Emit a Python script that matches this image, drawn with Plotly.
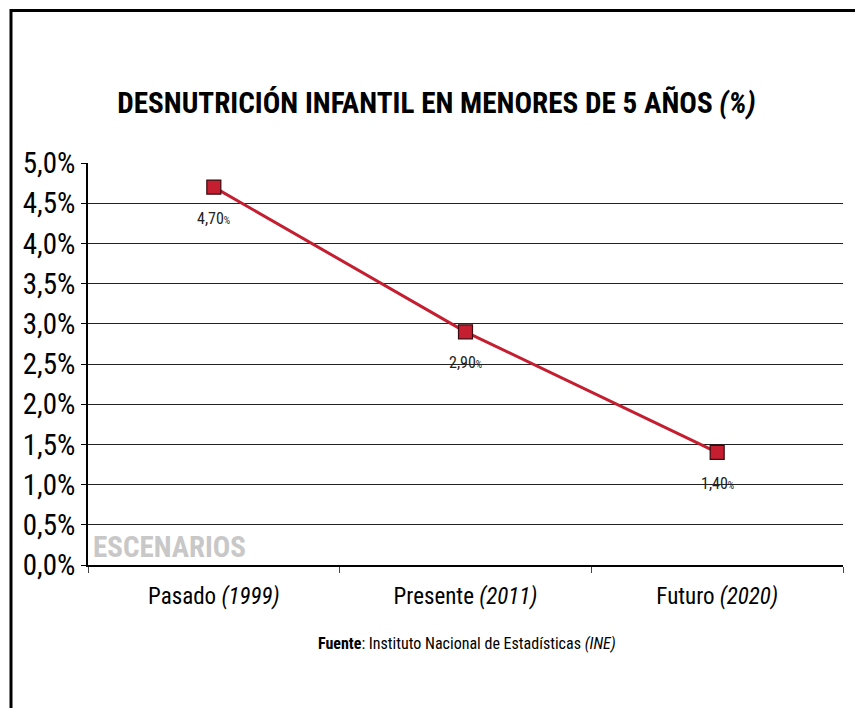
import plotly.graph_objects as go

categories = ["Pasado <i>(1999)</i>", "Presente <i>(2011)</i>", "Futuro <i>(2020)</i>"]
values = [4.7, 2.9, 1.4]
point_labels = ["4,70", "2,90", "1,40"]
y_tickvals = [0, 0.5, 1.0, 1.5, 2.0, 2.5, 3.0, 3.5, 4.0, 4.5, 5.0]
y_ticktext = ["0,0%", "0,5%", "1,0%", "1,5%", "2,0%", "2,5%", "3,0%", "3,5%", "4,0%", "4,5%", "5,0%"]

FONT = "Roboto Condensed, Liberation Sans Narrow, DejaVu Sans Condensed, Roboto, sans-serif"

W, H = 855, 708
L, R, T, B = 88, 12, 163, 143
pw, ph = W - L - R, H - T - B

def px(x):
    return (x - L) / pw

def py(y):
    return (H - B - y) / ph

def f(size, color="black"):
    return dict(family=FONT, size=size, color=color)

fig = go.Figure()
fig.add_trace(go.Scatter(
    x=categories, y=values,
    mode="lines+markers",
    line=dict(color="#c41e30", width=3),
    marker=dict(symbol="square", size=14, color="#c41e30", line=dict(color="#3a0a0e", width=1.2)),
    cliponaxis=False,
    hoverinfo="skip",
))

annotations = [
    dict(x=c, y=v, xref="x", yref="y", yshift=-31, showarrow=False,
         text=t + "<span style='font-size:10px'>%</span>", font=f(16, "#222"),
         xanchor="center", yanchor="middle")
    for c, v, t in zip(categories, values, point_labels)
]
annotations += [
    dict(text="<b>ESCENARIOS</b>", x=px(91), y=py(566), xref="paper", yref="paper",
         xanchor="left", yanchor="bottom", showarrow=False,
         font=f(29, "#c8c8c8")),
    dict(text="<b>Fuente</b>: Instituto Nacional de Estadísticas <i>(INE)</i>",
         x=px(467), y=py(643), xref="paper", yref="paper",
         xanchor="center", yanchor="middle", showarrow=False,
         font=f(16)),
]

fig.update_layout(
    width=W, height=H,
    margin=dict(l=L, r=R, t=T, b=B),
    paper_bgcolor="white", plot_bgcolor="white",
    showlegend=False,
    font=f(14),
    title=dict(
        text="<b>DESNUTRICIÓN INFANTIL EN MENORES DE 5 AÑOS <i>(%)</i></b>",
        x=436.5 / W, xanchor="center", xref="container",
        y=(H - 103) / H, yanchor="middle", yref="container",
        font=f(29.2),
    ),
    xaxis=dict(
        type="category",
        showgrid=False,
        showline=True, linecolor="black", linewidth=1.5,
        ticks="outside", ticklen=6, tickcolor="#444", tickson="boundaries",
        tickfont=f(23),
        ticklabelstandoff=10,
        range=[-0.5, 2.5],
    ),
    yaxis=dict(
        range=[0, 5],
        tickvals=y_tickvals, ticktext=y_ticktext,
        showgrid=True, gridcolor="#222", gridwidth=1.3,
        showline=True, linecolor="black", linewidth=1.5,
        ticks="outside", ticklen=5, tickcolor="black",
        tickfont=f(29),
        ticklabelstandoff=0,
        zeroline=False,
    ),
    annotations=annotations,
    shapes=[
        dict(type="line", xref="paper", yref="paper", x0=px(11), x1=px(W + 5), y0=py(10.5), y1=py(10.5),
             line=dict(color="black", width=3)),
        dict(type="line", xref="paper", yref="paper", x0=px(11), x1=px(11), y0=py(9), y1=py(H + 5),
             line=dict(color="black", width=3)),
    ],
)

fig.write_html("out.html", config={"displayModeBar": False},
               post_script="document.body.style.margin='0';document.body.style.overflow='hidden';")
